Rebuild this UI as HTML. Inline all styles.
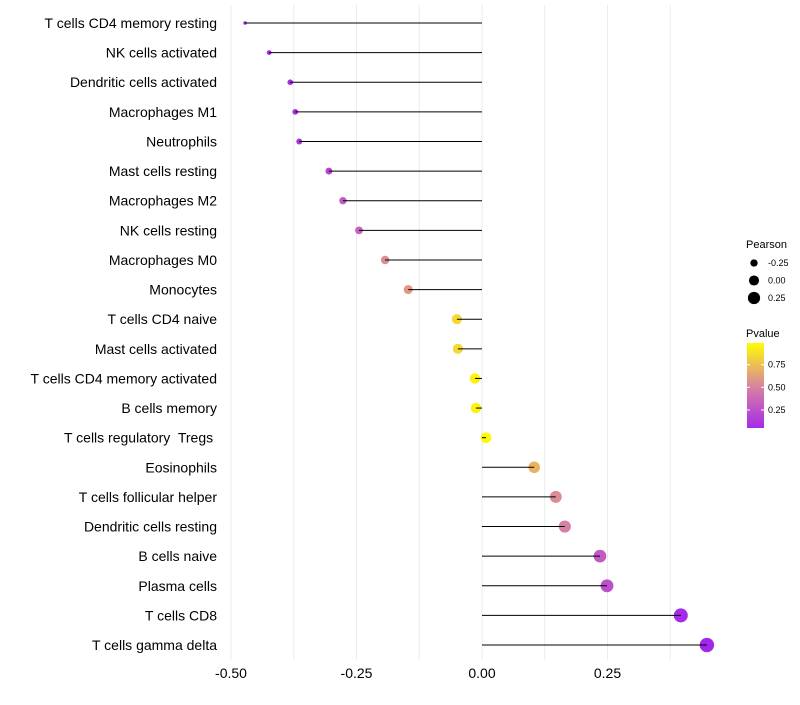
<!DOCTYPE html>
<html><head><meta charset="utf-8"><style>
body{margin:0;background:#fff;font-family:"Liberation Sans",sans-serif}
text{white-space:pre}
</style></head><body>
<svg id="c" width="800" height="700" xmlns="http://www.w3.org/2000/svg" font-family="Liberation Sans, sans-serif"></svg>
<script>
const categories=["T cells CD4 memory resting","NK cells activated","Dendritic cells activated","Macrophages M1","Neutrophils","Mast cells resting","Macrophages M2","NK cells resting","Macrophages M0","Monocytes","T cells CD4 naive","Mast cells activated","T cells CD4 memory activated","B cells memory","T cells regulatory  Tregs ","Eosinophils","T cells follicular helper","Dendritic cells resting","B cells naive","Plasma cells","T cells CD8","T cells gamma delta"];
const pearson=[-0.472,-0.424,-0.382,-0.372,-0.364,-0.305,-0.277,-0.245,-0.193,-0.147,-0.050,-0.048,-0.014,-0.012,0.008,0.104,0.147,0.165,0.235,0.249,0.396,0.448];
const pvalues=[0.03,0.05,0.08,0.09,0.1,0.2,0.3,0.35,0.55,0.6,0.85,0.85,0.95,0.95,0.97,0.7,0.55,0.5,0.3,0.25,0.05,0.03];
const xTicks=[-0.5,-0.25,0,0.25];
const xTickLabels=["-0.50","-0.25","0.00","0.25"];
const sizeLegend=[-0.25,0,0.25];
const sizeLegendLabels=["-0.25","0.00","0.25"];
const colorLegend=[0.25,0.5,0.75];
const colorLegendLabels=["0.25","0.50","0.75"];

const svg=document.getElementById('c');
const NS="http://www.w3.org/2000/svg";
function mk(t,a,p){const e=document.createElementNS(NS,t);for(const k in a)e.setAttribute(k,a[k]);(p||svg).appendChild(e);return e;}
const x=v=>482+v*502;
const y=i=>23+i*29.62;
const r=v=>Math.sqrt(Math.max(1,28.2+53*v));
function lerp(a,b,t){return a.map((c,i)=>Math.round(c+(b[i]-c)*t));}
function col(p){const s=[[160,32,240],[215,128,165],[255,255,0]];let t=Math.max(0,Math.min(1,p));const c=t<0.5?lerp(s[0],s[1],t/0.5):lerp(s[1],s[2],(t-0.5)/0.5);return `rgb(${c})`;}

for(let g=-0.5;g<=0.376;g+=0.125){
  const l=mk('line',{x1:x(g),x2:x(g),y1:5,y2:660,stroke:'#ebebeb','stroke-width':1});
  
  
}
xTicks.forEach((v,i)=>{
  const t=mk('text',{x:x(v),y:678,'text-anchor':'middle','font-size':14,fill:'#000'});
  t.textContent=xTickLabels[i];
  
  
});
categories.forEach((c,i)=>{
  const t=mk('text',{x:217,y:y(i)+5,'text-anchor':'end','font-size':14,fill:'#000'});
  t.textContent=c;
  
  
  const p=mk('circle',{cx:x(pearson[i]),cy:y(i),r:r(pearson[i]),fill:col(pvalues[i])});
  
  
  const l=mk('line',{x1:x(0),x2:x(pearson[i]),y1:y(i),y2:y(i),stroke:'#000','stroke-width':1});
  
  
});
let t=mk('text',{x:746,y:248,'font-size':11});t.textContent='Pearson';


sizeLegend.forEach((v,i)=>{
  const cy=263+i*17.5;
  const c=mk('circle',{cx:754,cy:cy,r:r(v)*0.95,fill:'#000'});
  
  
  const tt=mk('text',{x:768,y:cy+3,'font-size':9});tt.textContent=sizeLegendLabels[i];
  
  
});
t=mk('text',{x:746,y:337,'font-size':11});t.textContent='Pvalue';


const defs=mk('defs',{});
const lg=mk('linearGradient',{id:'g',x1:0,y1:1,x2:0,y2:0},defs);
for(let k=0;k<=10;k++){const p=0.05+0.94*k/10;mk('stop',{offset:k/10,'stop-color':col(p)},lg);}
const bar=mk('rect',{x:747,y:343,width:17,height:85,fill:'url(#g)'});


const cy=v=>428-(v-0.05)*(85/0.94);
colorLegend.forEach((v,i)=>{
  mk('line',{x1:747,x2:750,y1:cy(v),y2:cy(v),stroke:'#fff'});
  mk('line',{x1:761,x2:764,y1:cy(v),y2:cy(v),stroke:'#fff'});
  const tt=mk('text',{x:768,y:cy(v)+3,'font-size':9});tt.textContent=colorLegendLabels[i];
  
  
});
</script>
</body></html>
